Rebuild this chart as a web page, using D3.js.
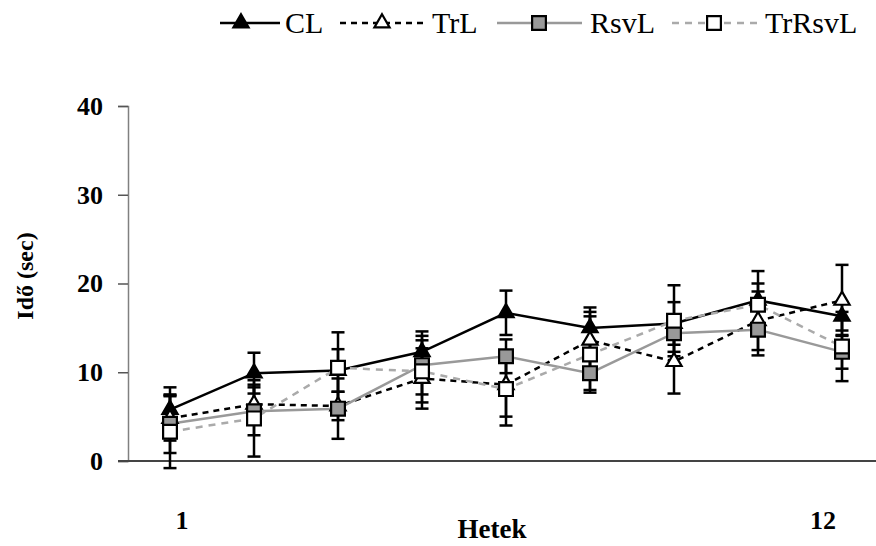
<!DOCTYPE html>
<html>
<head>
<meta charset="utf-8">
<script src="https://cdn.jsdelivr.net/npm/d3@7"></script>
<style>
  body { margin: 0; background: #fff; }
  svg { display: block; font-family: "Liberation Serif", "Times New Roman", serif; }
</style>
</head>
<body>
<svg id="chart" width="876" height="546"></svg>
<script>
// mérési pontok (hetek) - csak az első és utolsó felirat látszik
const weeks = [1, 2, 3, 4, 5, 6, 7, 8, 9];
const xTickLabels = ["1", "", "", "", "", "", "", "", "12"];
const yTicks = [0, 10, 20, 30, 40];

const CL = [5.8, 9.9, 10.2, 12.3, 16.7, 15.0, 15.5, 18.1, 16.3];
const CLErr = [2.5, 2.3, 2.4, 2.3, 2.5, 2.3, 2.4, 3.3, 1.6];
const TrL = [4.8, 6.4, 6.2, 9.3, 8.6, 13.6, 11.2, 15.8, 18.1];
const TrLErr = [2.5, 2.2, 1.6, 3.4, 3.6, 3.2, 3.6, 3.3, 4.0];
const RsvL = [4.2, 5.6, 5.9, 10.8, 11.8, 9.9, 14.4, 14.8, 12.3];
const RsvLErr = [3.3, 2.7, 3.4, 3.3, 1.9, 1.9, 2.1, 2.9, 1.9];
const TrRsvL = [3.3, 4.8, 10.5, 10.1, 8.1, 12.0, 15.8, 17.6, 12.9];
const TrRsvLErr = [4.1, 4.3, 4.0, 3.5, 4.1, 4.3, 4.0, 2.4, 3.9];

const seriesNames = ["CL", "TrL", "RsvL", "TrRsvL"];

const styles = {
  CL:     { line: "#000", dash: null,  symbol: d3.symbolTriangle, size: 100, fill: "#000" },
  TrL:    { line: "#000", dash: "6,5", symbol: d3.symbolTriangle, size: 100, fill: "#fff" },
  RsvL:   { line: "#999", dash: null,  symbol: d3.symbolSquare,   size: 190, fill: "#999" },
  TrRsvL: { line: "#aaa", dash: "7,6", symbol: d3.symbolSquare,   size: 190, fill: "#fff" }
};

const series = [
  { name: "CL", values: CL, err: CLErr },
  { name: "TrL", values: TrL, err: TrLErr },
  { name: "RsvL", values: RsvL, err: RsvLErr },
  { name: "TrRsvL", values: TrRsvL, err: TrRsvLErr }
];

const svg = d3.select("#chart");

const plotLeft = 128, plotRight = 876, plotTop = 106, plotBottom = 461;

const x = d3.scaleBand()
  .domain(weeks)
  .range([plotLeft, plotLeft + 84 * weeks.length]);
const cx = d => x(d) + x.bandwidth() / 2;

const y = d3.scaleLinear()
  .domain([0, 40])
  .range([plotBottom, plotTop]);

// Y tengely
const yAxis = svg.append("g")
  .attr("transform", `translate(${plotLeft},0)`)
  .call(d3.axisLeft(y).tickValues(yTicks).tickSize(10).tickPadding(15));
yAxis.select(".domain").attr("stroke", "#808080").attr("stroke-width", 1.5);
yAxis.selectAll(".tick line").attr("stroke", "#555").attr("stroke-width", 1.5);
yAxis.selectAll("text")
  .style("font-family", "Liberation Serif, serif")
  .style("font-size", "26px")
  .style("font-weight", "bold")
  .attr("fill", "#000");

// X tengely vonal
svg.append("line")
  .attr("x1", plotLeft - 10).attr("x2", plotRight)
  .attr("y1", y(0)).attr("y2", y(0))
  .attr("stroke", "#444").attr("stroke-width", 1.8);

// X feliratok (első, utolsó)
const labelShift = [12, 0, 0, 0, 0, 0, 0, 0, -19];
svg.append("g").selectAll("text")
  .data(weeks)
  .enter()
  .append("text")
  .attr("x", (d, i) => cx(d) + labelShift[i])
  .attr("y", 529)
  .attr("text-anchor", "middle")
  .style("font-size", "26px")
  .style("font-weight", "bold")
  .text((d, i) => xTickLabels[i]);

// tengelycímek
svg.append("text")
  .attr("x", 492).attr("y", 538)
  .attr("text-anchor", "middle")
  .style("font-size", "27px")
  .style("font-weight", "bold")
  .text("Hetek");

svg.append("text")
  .attr("transform", "translate(33,276) rotate(-90)")
  .attr("text-anchor", "middle")
  .style("font-size", "24px")
  .style("font-weight", "bold")
  .text("Idő (sec)");

// vonalak
const line = d3.line()
  .x((v, i) => cx(weeks[i]))
  .y(v => y(v));

series.forEach(s => {
  const st = styles[s.name];
  svg.append("path")
    .datum(s.values)
    .attr("d", line)
    .attr("fill", "none")
    .attr("stroke", st.line)
    .attr("stroke-width", 2.5)
    .attr("stroke-dasharray", st.dash);
});

// hibasávok
series.forEach(s => {
  const g = svg.append("g").attr("stroke", "#000").attr("stroke-width", 2.5);
  s.values.forEach((v, i) => {
    const px = cx(weeks[i]);
    const lo = y(v - s.err[i]), hi = y(v + s.err[i]);
    g.append("line").attr("x1", px).attr("x2", px).attr("y1", lo).attr("y2", hi);
    g.append("line").attr("x1", px - 6.5).attr("x2", px + 6.5).attr("y1", lo).attr("y2", lo);
    g.append("line").attr("x1", px - 6.5).attr("x2", px + 6.5).attr("y1", hi).attr("y2", hi);
  });
});

// jelölők
series.forEach(s => {
  const st = styles[s.name];
  svg.append("g").selectAll("path")
    .data(s.values)
    .enter()
    .append("path")
    .attr("d", d3.symbol().type(st.symbol).size(st.size))
    .attr("transform", (v, i) => `translate(${cx(weeks[i])},${y(v)})`)
    .attr("fill", st.fill)
    .attr("stroke", "#000")
    .attr("stroke-width", 2.2);
});

// jelmagyarázat
const legendLine = [[220, 280], [340, 425], [497, 582], [672, 757]];
const legendMark = [241, 382, 539, 714];
const legendText = [285, 432, 590, 765];
const legendY = 23;
const legend = svg.append("g");
seriesNames.forEach((name, i) => {
  const st = styles[name];
  legend.append("line")
    .attr("x1", legendLine[i][0]).attr("x2", legendLine[i][1])
    .attr("y1", legendY).attr("y2", legendY)
    .attr("stroke", st.line)
    .attr("stroke-width", 2.5)
    .attr("stroke-dasharray", st.dash);
  legend.append("path")
    .attr("d", d3.symbol().type(st.symbol).size(st.size))
    .attr("transform", `translate(${legendMark[i]},${legendY})`)
    .attr("fill", st.fill)
    .attr("stroke", "#000")
    .attr("stroke-width", 2.2);
  legend.append("text")
    .attr("x", legendText[i])
    .attr("y", legendY + 10)
    .style("font-size", "30px")
    .text(name);
});
</script>
</body>
</html>
